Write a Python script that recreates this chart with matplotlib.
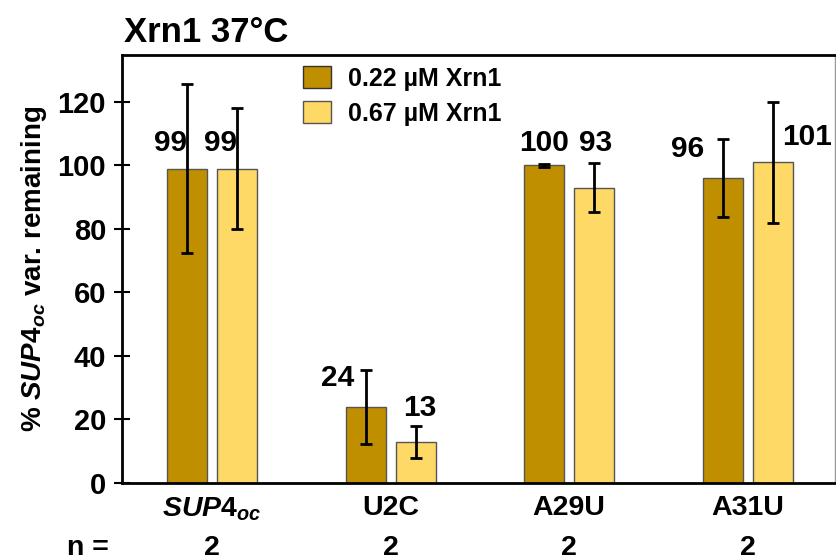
import numpy as np
import matplotlib.pyplot as plt
from matplotlib.patches import Patch

plt.rcParams['font.family'] = 'Liberation Sans'
plt.rcParams['font.weight'] = 'bold'
plt.rcParams['mathtext.fontset'] = 'custom'
plt.rcParams['mathtext.rm'] = 'Liberation Sans:bold'
plt.rcParams['mathtext.it'] = 'Liberation Sans:italic:bold'
plt.rcParams['mathtext.bf'] = 'Liberation Sans:bold'

# Data
categories = [r'$\mathit{SUP4}_{\mathit{oc}}$', 'U2C', 'A29U', 'A31U']
n_values = [2, 2, 2, 2]
series_names = ['0.22 µM Xrn1', '0.67 µM Xrn1']
low_vals = [99, 24, 100, 96]
high_vals = [99, 13, 93, 101]
low_err = [26.6, 11.7, 0.5, 12.3]
high_err = [19.0, 5.0, 7.7, 19.0]

# label offsets (pixels) relative to top centre of each bar
low_offsets = [(-17, 26), (-28, 29), (0, 22), (-35, 29)]
high_offsets = [(-17, 26), (4, 34), (1, 45), (34, 25)]

dark = '#BF8F00'
light = '#FFD966'

fig = plt.figure(figsize=(8.36, 5.59), dpi=100)
ax = fig.add_axes([0.146, 0.136, 0.853, 0.766])

x = np.arange(len(categories))
w = 0.224
off = 0.14
ax.bar(x - off, low_vals, w, color=dark, edgecolor='#555555', linewidth=1, zorder=2)
ax.bar(x + off, high_vals, w, color=light, edgecolor='#555555', linewidth=1, zorder=2)
ax.errorbar(x - off, low_vals, yerr=low_err, fmt='none', ecolor='black',
            elinewidth=2, capsize=4, capthick=2, zorder=3)
ax.errorbar(x + off, high_vals, yerr=high_err, fmt='none', ecolor='black',
            elinewidth=2, capsize=4, capthick=2, zorder=3)

for xs, vals, offs in [(x - off, low_vals, low_offsets), (x + off, high_vals, high_offsets)]:
    for xi, v, (dx, dy) in zip(xs, vals, offs):
        ax.annotate(str(v), xy=(xi, v), xytext=(dx, dy), textcoords='offset pixels',
                    ha='center', va='center', fontsize=21.5, fontweight='bold')

ax.set_xlim(-0.504, 3.49)
ax.set_ylim(0, 134.8)
ax.set_yticks(np.arange(0, 121, 20))
ax.tick_params(axis='y', direction='inout', length=11, width=1.5, labelsize=21, pad=6)
ax.set_xticks(x)
ax.set_xticklabels(categories)
ax.tick_params(axis='x', length=0, labelsize=20.5, pad=9)

for s in ['left', 'bottom', 'top']:
    ax.spines[s].set_linewidth(2)
ax.spines['right'].set_color('#999999')
ax.spines['right'].set_linewidth(1)

ax.set_ylabel(r'% $\mathit{SUP4}_{\mathit{oc}}$ var. remaining', fontsize=20,
              fontweight='bold', labelpad=6)
fig.text(0.148, 0.942, 'Xrn1 37°C', fontsize=25, fontweight='bold', ha='left', va='center')

trans = ax.get_xaxis_transform()
ax.text(-0.58, -0.152, 'n =', transform=trans, ha='right', va='center',
        fontsize=20.5, fontweight='bold', clip_on=False)
for xi, nv in zip(x, n_values):
    ax.text(xi, -0.152, str(nv), transform=trans, ha='center', va='center',
            fontsize=20.5, fontweight='bold', clip_on=False)

handles = [Patch(facecolor=dark, edgecolor='#333333'), Patch(facecolor=light, edgecolor='#555555')]
fig.legend(handles, series_names, loc='upper left', bbox_to_anchor=(303 / 836, 1 - 66 / 559),
           frameon=False, handlelength=1.1, handleheight=1.0, borderpad=0, borderaxespad=0,
           handletextpad=0.7, labelspacing=0.4, prop={'weight': 'bold', 'size': 18})

fig.savefig('out.png', dpi=100)
